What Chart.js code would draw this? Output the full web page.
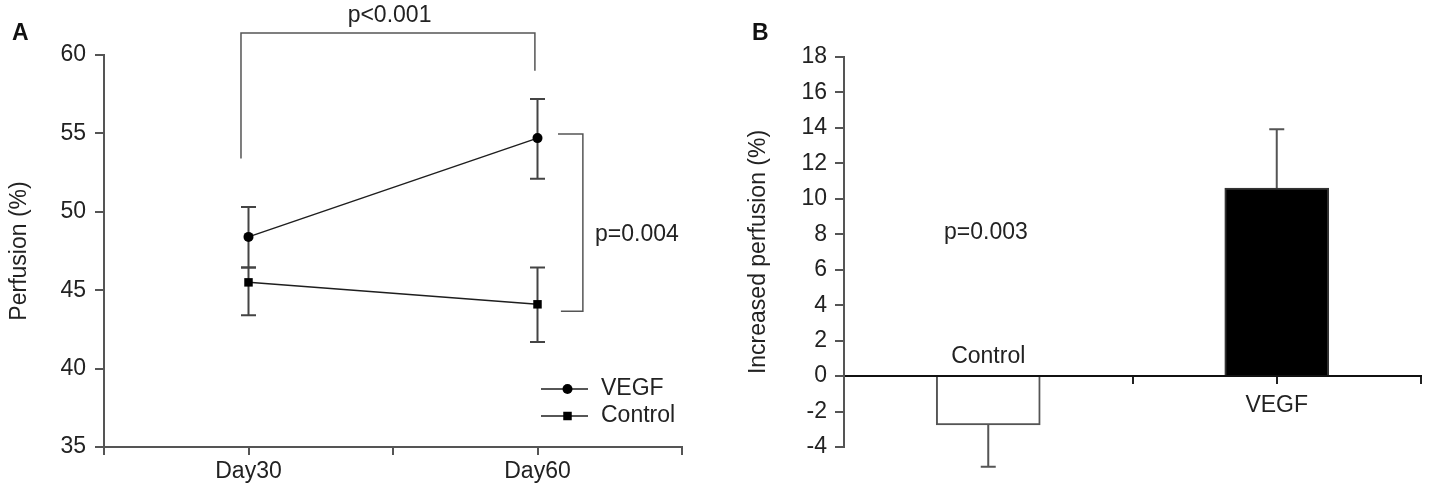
<!DOCTYPE html>
<html>
<head>
<meta charset="utf-8">
<script src="https://cdn.jsdelivr.net/npm/chart.js@4.4.1/dist/chart.umd.min.js"></script>
<style>
  html, body { margin: 0; padding: 0; background: #fff; }
  #wrap { position: relative; width: 1437px; height: 484px; overflow: hidden; }
  .panel { position: absolute; top: 0; height: 484px; }
  #panelA { left: 0; width: 720px; }
  #panelB { left: 740px; width: 697px; }
  .tag { position: absolute; top: 20px; font: bold 23px/25px 'Liberation Sans', Arial, sans-serif; color: #111; }
</style>
</head>
<body>
<div id="wrap">
  <div class="panel" id="panelA"><canvas id="chartA"></canvas></div>
  <div class="panel" id="panelB"><canvas id="chartB"></canvas></div>
  <div class="tag" style="left:12px">A</div>
  <div class="tag" style="left:752px">B</div>
</div>
<script>
// panel A: perfusion over time
const days = ["Day30", "Day60"];
const vegfMean = [48.4, 54.7];
const vegfLow = [46.45, 52.1];
const vegfHigh = [50.3, 57.2];
const controlMean = [45.5, 44.1];
const controlLow = [43.4, 41.7];
const controlHigh = [46.45, 46.45];
const perfusionTicks = [35, 40, 45, 50, 55, 60];

// panel B: increase in perfusion
const groups = ["Control", "VEGF"];
const increase = [-2.75, 10.6];
const increaseErr = [2.37, 3.33];
const increaseTicks = [-4, -2, 0, 2, 4, 6, 8, 10, 12, 14, 16, 18];

const FONT = "'Liberation Sans', Arial, sans-serif";
const SIZE = 23;
const AXIS = "#555";
const INK = "#1e1e1e";

Chart.defaults.font.family = FONT;
Chart.defaults.font.size = SIZE;
Chart.defaults.color = "#222";

const categoryTicks = (n) => (scale) => {
  const out = [];
  for (let v = 0; v <= n; v += 0.5) out.push({ value: v });
  scale.ticks = out;
};

// vertical whiskers from dataset.lo / dataset.hi
const errorBars = {
  id: "errorBars",
  beforeDatasetsDraw(chart, args, opts) {
    const { ctx, scales: { x, y } } = chart;
    const half = (opts.cap || 15) / 2;
    ctx.save();
    ctx.strokeStyle = opts.color || AXIS;
    ctx.lineWidth = opts.width || 2;
    chart.data.datasets.forEach((ds) => {
      if (!ds.lo) return;
      ds.data.forEach((pt, i) => {
        const px = x.getPixelForValue(pt.x);
        const top = y.getPixelForValue(ds.hi[i]);
        const bot = y.getPixelForValue(ds.lo[i]);
        ctx.beginPath();
        ctx.moveTo(px, top);
        ctx.lineTo(px, bot);
        if (ds.hi[i] !== pt.y) { ctx.moveTo(px - half, top); ctx.lineTo(px + half, top); }
        if (ds.lo[i] !== pt.y) { ctx.moveTo(px - half, bot); ctx.lineTo(px + half, bot); }
        ctx.stroke();
      });
    });
    ctx.restore();
  }
};

// significance brackets and free text, placed in data units
const notes = {
  id: "notes",
  afterDraw(chart, args, opts) {
    const { ctx, scales: { x, y } } = chart;
    ctx.save();
    ctx.strokeStyle = AXIS;
    ctx.lineWidth = 1.5;
    ctx.fillStyle = "#222";
    ctx.font = SIZE + "px " + FONT;
    ctx.textBaseline = "middle";
    (opts.items || []).forEach((it) => {
      if (it.path) {
        ctx.beginPath();
        it.path.forEach(([vx, vy], k) => {
          const px = x.getPixelForValue(vx), py = y.getPixelForValue(vy);
          if (k) ctx.lineTo(px, py); else ctx.moveTo(px, py);
        });
        ctx.stroke();
      }
      ctx.textAlign = it.align || "center";
      ctx.fillText(it.text, x.getPixelForValue(it.at[0]), y.getPixelForValue(it.at[1]));
    });
    ctx.restore();
  }
};

// legend drawn as line + marker, like the original figure
const lineLegend = {
  id: "lineLegend",
  afterDraw(chart, args, opts) {
    const { ctx } = chart;
    ctx.save();
    ctx.font = SIZE + "px " + FONT;
    ctx.textBaseline = "middle";
    ctx.textAlign = "left";
    chart.data.datasets.forEach((ds, i) => {
      const y = opts.top + i * opts.rowGap;
      const x0 = opts.left;
      ctx.strokeStyle = ds.borderColor;
      ctx.lineWidth = ds.borderWidth;
      ctx.beginPath();
      ctx.moveTo(x0, y);
      ctx.lineTo(x0 + opts.lineLength, y);
      ctx.stroke();
      ctx.fillStyle = ds.pointBackgroundColor;
      const mx = x0 + opts.lineLength / 2 + 3;
      if (ds.pointStyle === "rect") {
        const s = ds.pointRadius * Math.SQRT1_2;
        ctx.fillRect(mx - s, y - s, 2 * s, 2 * s);
      } else {
        ctx.beginPath();
        ctx.arc(mx, y, ds.pointRadius, 0, Math.PI * 2);
        ctx.fill();
      }
      ctx.fillStyle = "#222";
      ctx.fillText(ds.label, x0 + opts.lineLength + 13, y);
    });
    ctx.restore();
  }
};

// category names: above the zero line for negative bars, below for positive
const barLabels = {
  id: "barLabels",
  afterDraw(chart, args, opts) {
    const { ctx, scales: { x, y } } = chart;
    const zero = y.getPixelForValue(0);
    ctx.save();
    ctx.font = SIZE + "px " + FONT;
    ctx.fillStyle = "#222";
    ctx.textAlign = "center";
    ctx.textBaseline = "middle";
    groups.forEach((g, i) => {
      const py = increase[i] < 0 ? zero - opts.above : zero + opts.below;
      ctx.fillText(g, x.getPixelForValue(i + 0.5), py);
    });
    ctx.restore();
  }
};

new Chart(document.getElementById("chartA"), {
  type: "line",
  data: {
    datasets: [
      {
        label: "VEGF",
        data: days.map((d, i) => ({ x: i + 0.5, y: vegfMean[i] })),
        lo: vegfLow,
        hi: vegfHigh,
        borderColor: INK,
        borderWidth: 1.5,
        pointStyle: "circle",
        pointRadius: 5,
        pointBackgroundColor: "#000",
        pointBorderWidth: 0,
        tension: 0
      },
      {
        label: "Control",
        data: days.map((d, i) => ({ x: i + 0.5, y: controlMean[i] })),
        lo: controlLow,
        hi: controlHigh,
        borderColor: INK,
        borderWidth: 1.5,
        pointStyle: "rect",
        pointRadius: 6,
        pointBackgroundColor: "#000",
        pointBorderWidth: 0,
        tension: 0
      }
    ]
  },
  options: {
    responsive: true,
    maintainAspectRatio: false,
    animation: false,
    layout: { padding: { top: 55, right: 38, bottom: 0, left: 0 } },
    plugins: {
      legend: { display: false },
      tooltip: { enabled: false },
      errorBars: { cap: 15, color: "#444", width: 2 },
      lineLegend: { left: 541, top: 389, rowGap: 27, lineLength: 47 },
      notes: {
        items: [
          { path: [[0.474, 53.4], [0.474, 61.4], [1.491, 61.4], [1.491, 59.0]], text: "p<0.001", at: [0.988, 62.53] },
          { path: [[1.581, 43.66], [1.657, 43.66], [1.657, 54.96], [1.571, 54.96]], text: "p=0.004", at: [1.699, 48.57], align: "left" }
        ]
      }
    },
    scales: {
      x: {
        type: "linear",
        min: 0,
        max: days.length,
        afterBuildTicks: categoryTicks(days.length),
        afterFit: (s) => { s.height = 37; },
        ticks: {
          autoSkip: false,
          maxRotation: 0,
          padding: 3,
          callback: (v) => days[v - 0.5] ?? ""
        },
        grid: { drawOnChartArea: false, tickLength: 8, color: AXIS, lineWidth: 2 },
        border: { color: AXIS, width: 2 }
      },
      y: {
        min: perfusionTicks[0],
        max: perfusionTicks[perfusionTicks.length - 1],
        afterBuildTicks: (s) => { s.ticks = perfusionTicks.map((v) => ({ value: v })); },
        afterFit: (s) => { s.width = 104; },
        ticks: { padding: 9 },
        grid: { drawOnChartArea: false, tickLength: 9, color: AXIS, lineWidth: 2 },
        border: { color: AXIS, width: 2 },
        title: { display: true, text: "Perfusion (%)", padding: { top: 6, bottom: 0 } }
      }
    }
  },
  plugins: [errorBars, notes, lineLegend]
});

new Chart(document.getElementById("chartB"), {
  type: "bar",
  data: {
    datasets: [{
      label: "Increased perfusion",
      data: groups.map((g, i) => ({ x: i + 0.5, y: increase[i] })),
      lo: increase.map((v, i) => (v < 0 ? v - increaseErr[i] : v)),
      hi: increase.map((v, i) => (v < 0 ? v : v + increaseErr[i])),
      backgroundColor: ["#ffffff", "#000000"],
      borderColor: ["#555555", "#333333"],
      borderWidth: 2,
      barThickness: 104
    }]
  },
  options: {
    responsive: true,
    maintainAspectRatio: false,
    animation: false,
    layout: { padding: { top: 57, right: 16, bottom: 37, left: 0 } },
    plugins: {
      legend: { display: false },
      tooltip: { enabled: false },
      errorBars: { cap: 15, color: "#555", width: 2 },
      barLabels: { above: 19, below: 30 },
      notes: { items: [{ text: "p=0.003", at: [0.492, 8.1] }] }
    },
    scales: {
      x: {
        type: "linear",
        min: 0,
        max: groups.length,
        offset: false,
        position: { y: 0 },
        afterBuildTicks: categoryTicks(groups.length),
        ticks: { display: false },
        grid: { offset: false, drawOnChartArea: false, tickLength: 7, color: "#222", lineWidth: 2 },
        border: { color: "#111", width: 2 }
      },
      y: {
        min: increaseTicks[0],
        max: increaseTicks[increaseTicks.length - 1],
        afterBuildTicks: (s) => { s.ticks = increaseTicks.map((v) => ({ value: v })); },
        afterFit: (s) => { s.width = 104; },
        ticks: { padding: 8 },
        grid: { drawOnChartArea: false, tickLength: 9, color: AXIS, lineWidth: 2 },
        border: { color: AXIS, width: 2 },
        title: { display: true, text: "Increased perfusion (%)", padding: { top: 5, bottom: 0 } }
      }
    }
  },
  plugins: [errorBars, notes, barLabels]
});
</script>
</body>
</html>
